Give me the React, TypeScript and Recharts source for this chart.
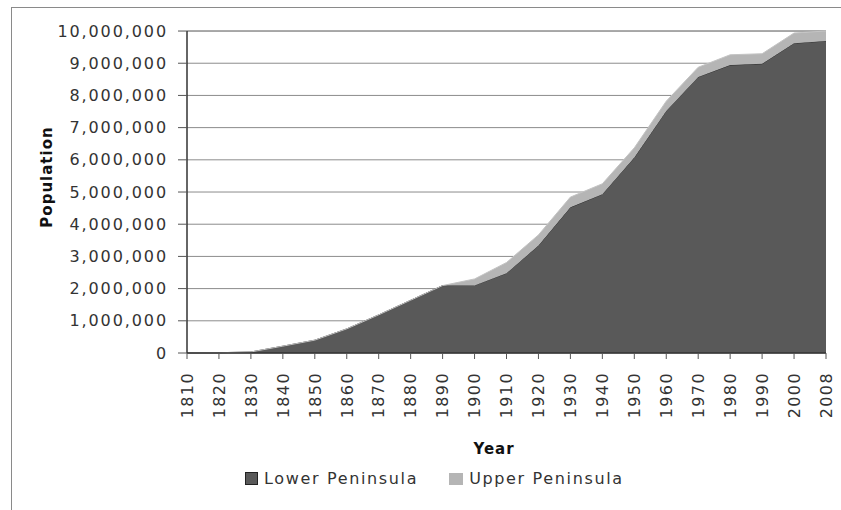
import React from "react";
import { AreaChart, Area, XAxis, YAxis, CartesianGrid } from "recharts";

const years = ["1810","1820","1830","1840","1850","1860","1870","1880","1890","1900","1910","1920","1930","1940","1950","1960","1970","1980","1990","2000","2008"];
const lowerPeninsula = [5000, 9000, 32000, 212000, 398000, 749000, 1184000, 1637000, 2094000, 2100000, 2478000, 3336000, 4523000, 4932000, 6070000, 7518000, 8573000, 8942000, 8982000, 9621000, 9690000];
const upperPeninsula = [0, 0, 0, 0, 0, 0, 0, 0, 0, 200000, 332000, 332000, 319000, 324000, 302000, 305000, 302000, 320000, 313000, 317000, 311000];
const yTicks = [0, 1000000, 2000000, 3000000, 4000000, 5000000, 6000000, 7000000, 8000000, 9000000, 10000000];

const data = years.map((y, i) => ({ year: y, lower: lowerPeninsula[i], upper: upperPeninsula[i] }));

const FONT = "'DejaVu Sans', Verdana, sans-serif";
const DARK = "#595959";
const LIGHT = "#b5b5b5";

const XTick = (props: any) => {
  const { x, y, payload } = props;
  return (
    <text
      x={0}
      y={0}
      dy="0.36em"
      textAnchor="end"
      transform={`translate(${x},${y + 11}) rotate(-90)`}
      fontFamily={FONT}
      fontSize={16}
      letterSpacing={1.4}
      fill="#333"
    >
      {payload.value}
    </text>
  );
};

export default function App() {
  return (
    <div style={{ position: "fixed", left: 0, top: 0, width: 841, height: 510, background: "#fff", overflow: "hidden" }}>
      <div style={{ position: "absolute", left: 11, top: 7, width: 900, height: 600, borderLeft: "1.5px solid #8a8a8a", borderTop: "1.5px solid #8a8a8a" }} />
      <div style={{ position: "absolute", left: 0, top: 0 }}>
        <AreaChart width={841} height={510} data={data} margin={{ top: 31, right: 15, left: 0, bottom: 0 }}>
          <CartesianGrid vertical={false} stroke="#8c8c8c" strokeWidth={1} />
          <XAxis
            dataKey="year"
            height={157}
            interval={0}
            tick={<XTick />}
            tickSize={6}
            axisLine={{ stroke: "#333", strokeWidth: 1.5 }}
            tickLine={{ stroke: "#555" }}
          />
          <YAxis
            width={187}
            domain={[0, 10000000]}
            ticks={yTicks}
            interval={0}
            tickSize={9}
            tickMargin={10}
            tickFormatter={(v: number) => v.toLocaleString("en-US")}
            tick={{ fontFamily: FONT, fontSize: 16, fill: "#333", letterSpacing: 1.9 }}
            axisLine={{ stroke: "#333", strokeWidth: 1.5 }}
            tickLine={{ stroke: "#555" }}
          />
          <Area
            type="linear"
            dataKey="lower"
            stackId="a"
            fill={DARK}
            fillOpacity={1}
            stroke="#2e2e2e"
            strokeWidth={1}
            isAnimationActive={false}
          />
          <Area
            type="linear"
            dataKey="upper"
            stackId="a"
            fill={LIGHT}
            fillOpacity={1}
            stroke="#c4c4c4"
            strokeWidth={1}
            isAnimationActive={false}
          />
        </AreaChart>
      </div>
      <div
        style={{
          position: "absolute",
          left: 47,
          top: 177,
          transform: "translate(-50%, -50%) rotate(-90deg)",
          fontFamily: FONT,
          fontSize: 15,
          fontWeight: "bold",
          letterSpacing: 1,
          color: "#111",
          whiteSpace: "nowrap",
        }}
      >
        Population
      </div>
      <div
        style={{
          position: "absolute",
          left: 494,
          top: 449,
          transform: "translate(-50%, -50%)",
          fontFamily: FONT,
          fontSize: 15,
          fontWeight: "bold",
          letterSpacing: 1,
          color: "#111",
          whiteSpace: "nowrap",
        }}
      >
        Year
      </div>
      <div style={{ position: "absolute", left: 245, top: 469, display: "flex", alignItems: "center", fontFamily: FONT, fontSize: 16, letterSpacing: 1.65, color: "#333", whiteSpace: "nowrap" }}>
        <span style={{ display: "inline-block", width: 11, height: 11, background: DARK, border: "1px solid #222", marginRight: 6 }} />
        <span>Lower Peninsula</span>
        <span style={{ display: "inline-block", width: 14, height: 12, background: LIGHT, marginLeft: 31, marginRight: 6 }} />
        <span>Upper Peninsula</span>
      </div>
    </div>
  );
}
